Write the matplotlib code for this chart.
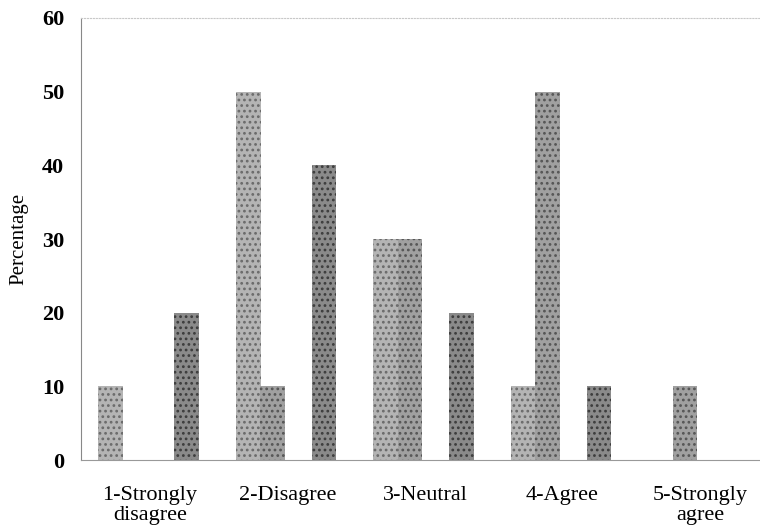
import numpy as np
import matplotlib
matplotlib.use('Agg')
import matplotlib.pyplot as plt

# survey answers, percentage of respondents per group
categories = ['1-Strongly\ndisagree', '2-Disagree', '3-Neutral', '4-Agree', '5-Strongly\nagree']
group_a = [10, 50, 30, 10, 0]
group_b = [0, 10, 30, 50, 10]
group_c = [20, 40, 20, 10, 0]
y_ticks = [0, 10, 20, 30, 40, 50, 60]

plt.rcParams['font.family'] = ['Liberation Serif', 'DejaVu Serif']
plt.rcParams['hatch.linewidth'] = 1.2

fig = plt.figure(figsize=(7.6, 5.29), dpi=100)
ax = fig.add_axes([0.1066, 0.1304, 0.8934, 0.8356])

x = np.arange(len(categories))
width = 0.18
ax.bar(x - 0.285, group_a, width, color='#b4b4b4', edgecolor='#6a6a6a', linewidth=0, hatch='...')
ax.bar(x - 0.11, group_b, width, color='#a0a0a0', edgecolor='#555555', linewidth=0, hatch='...')
ax.bar(x + 0.265, group_c, width, color='#8a8a8a', edgecolor='#3c3c3c', linewidth=0, hatch='...')

ax.set_xlim(-0.502, 4.436)
ax.set_ylim(0, 60)
ax.set_yticks(y_ticks)
ax.set_yticklabels([str(v) for v in y_ticks], fontsize=16, fontweight='bold')
ax.set_xticks(x)
ax.set_xticklabels(categories, fontsize=16, linespacing=1.05)
ax.tick_params(axis='y', length=0, pad=12)
ax.tick_params(axis='x', length=0, pad=19)
ax.set_ylabel('Percentage', fontsize=15, labelpad=10)

ax.spines['right'].set_visible(False)
ax.spines['top'].set_color('#c8c8c8')
ax.spines['top'].set_linestyle(':')
ax.spines['left'].set_color('#888888')
ax.spines['left'].set_linestyle((0, (3, 1)))
ax.spines['left'].set_linewidth(0.8)
ax.spines['bottom'].set_color('#999999')
ax.spines['bottom'].set_linewidth(0.8)

fig.savefig('out.png', dpi=100)
